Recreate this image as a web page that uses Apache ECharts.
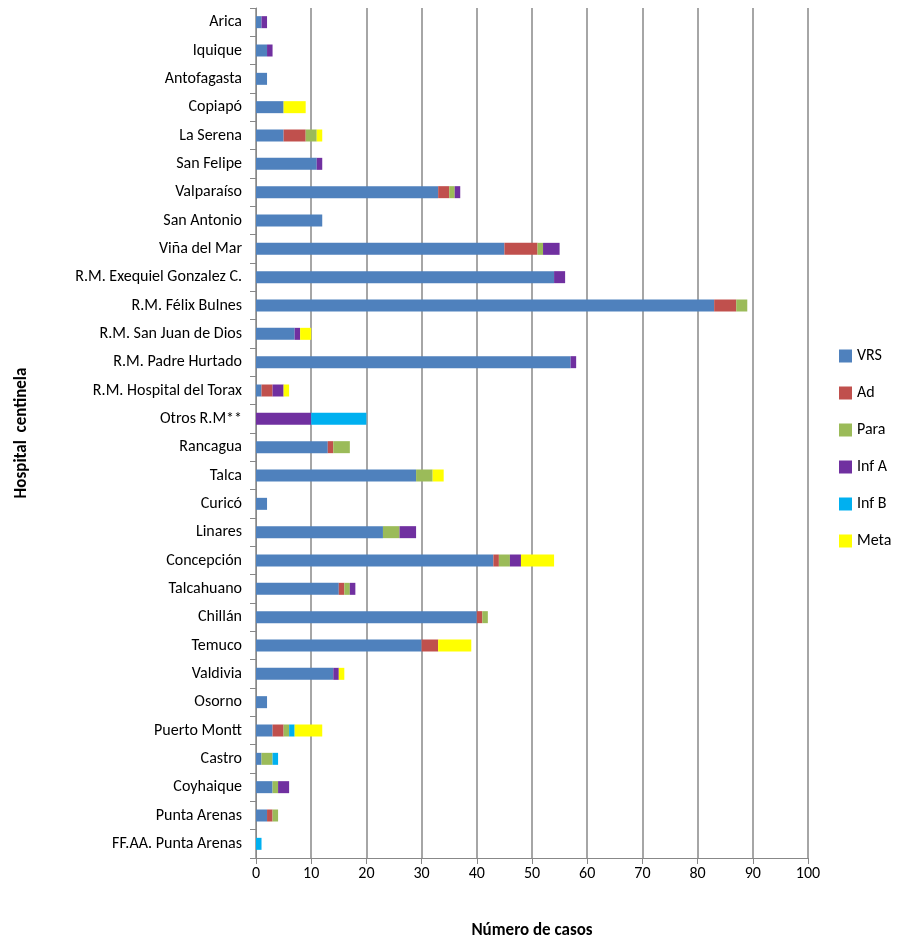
<!DOCTYPE html>
<html>
<head>
<meta charset="utf-8">
<script src="https://cdn.jsdelivr.net/npm/echarts@6/dist/echarts.min.js"></script>
<style>html,body{margin:0;padding:0;background:#fff}#main{width:902px;height:944px}</style>
</head>
<body>
<div id="main"></div>
<script>
var hospitals = ['Arica','Iquique','Antofagasta','Copiapó','La Serena','San Felipe','Valparaíso','San Antonio','Viña del Mar','R.M. Exequiel Gonzalez C.','R.M. Félix Bulnes','R.M. San Juan de Dios','R.M. Padre Hurtado','R.M. Hospital del Torax','Otros R.M**','Rancagua','Talca','Curicó','Linares','Concepción','Talcahuano','Chillán','Temuco','Valdivia','Osorno','Puerto Montt','Castro','Coyhaique','Punta Arenas','FF.AA. Punta Arenas'];
var vrs  = [1,2,2,5,5,11,33,12,45,54,83,7,57,1,0,13,29,2,23,43,15,40,30,14,2,3,1,3,2,0];
var ad   = [0,0,0,0,4,0,2,0,6,0,4,0,0,2,0,1,0,0,0,1,1,1,3,0,0,2,0,0,1,0];
var para = [0,0,0,0,2,0,1,0,1,0,2,0,0,0,0,3,3,0,3,2,1,1,0,0,0,1,2,1,1,0];
var infA = [1,1,0,0,0,1,1,0,3,2,0,1,1,2,10,0,0,0,3,2,1,0,0,1,0,0,0,2,0,0];
var infB = [0,0,0,0,0,0,0,0,0,0,0,0,0,0,10,0,0,0,0,0,0,0,0,0,0,1,1,0,0,1];
var meta = [0,0,0,4,1,0,0,0,0,0,0,2,0,1,0,0,2,0,0,6,0,0,6,1,0,5,0,0,0,0];
var xTicks = [0,10,20,30,40,50,60,70,80,90,100];

var names = ['VRS','Ad','Para','Inf A','Inf B','Meta'];
var colors = ['#4f81bd','#c0504d','#9bbb59','#7030a0','#00b0f0','#ffff00'];
var values = [vrs, ad, para, infA, infB, meta];
var font = 'Calibri, Carlito, "Liberation Sans", sans-serif';

var chart = echarts.init(document.getElementById('main'));
chart.setOption({
  animation: false,
  textStyle: { fontFamily: font },
  grid: { left: 256, right: 94, top: 8, bottom: 86 },
  legend: {
    orient: 'vertical', left: 834, top: 343, itemGap: 21,
    itemWidth: 13, itemHeight: 13, icon: 'rect',
    textStyle: { fontSize: 16, color: '#000', fontFamily: font },
    data: names
  },
  xAxis: {
    type: 'value', min: 0, max: 100, interval: 10,
    name: 'Número de casos', nameLocation: 'middle', nameGap: 64,
    nameTextStyle: { fontSize: 17, fontWeight: 'bold', color: '#000' },
    axisLine: { show: true, lineStyle: { color: '#888' } },
    axisTick: { show: true, length: 6, lineStyle: { color: '#888' } },
    axisLabel: { fontSize: 16, color: '#000', formatter: function (v) { return xTicks.indexOf(v) >= 0 ? String(v) : ''; } },
    splitLine: { show: true, lineStyle: { color: '#888', width: 1.5 } }
  },
  yAxis: {
    type: 'category', inverse: true, data: hospitals,
    name: 'Hospital  centinela', nameLocation: 'middle', nameGap: 226, nameRotate: 90,
    nameTextStyle: { fontSize: 17, fontWeight: 'bold', color: '#000' },
    axisLine: { show: true, lineStyle: { color: '#888' } },
    axisTick: { show: true, length: 6, lineStyle: { color: '#888' } },
    axisLabel: { fontSize: 16, color: '#000', margin: 14 }
  },
  series: names.map(function (n, i) {
    return {
      name: n, type: 'bar', stack: 'total', barWidth: 12,
      itemStyle: { color: colors[i] },
      data: values[i]
    };
  })
});
</script>
</body>
</html>
